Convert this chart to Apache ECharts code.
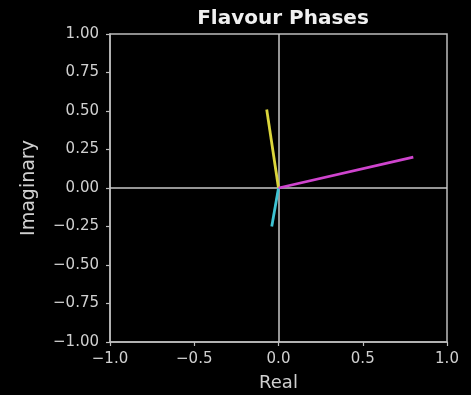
<!DOCTYPE html>
<html>
<head>
<meta charset="utf-8">
<script src="https://cdn.jsdelivr.net/npm/echarts@6/dist/echarts.min.js"></script>
<style>
  html, body { margin: 0; padding: 0; background: #000; }
  #chart { width: 471px; height: 395px; }
</style>
</head>
<body>
<div id="chart"></div>
<script>
// Phase vectors drawn from the origin in the complex plane
const flavourNames = ['yellow', 'cyan', 'magenta'];
const realParts = [-0.07, -0.04, 0.80];
const imagParts = [0.51, -0.25, 0.20];
const lineColors = ['#dcd63c', '#3ec2d2', '#cf44ce'];

const fmt = (v, d) => v.toFixed(d).replace('-', '\u2212');
const txt = '#d0d0d0';
const axisGrey = '#bdbdbd';

const series = flavourNames.map((name, i) => ({
  name: name,
  type: 'line',
  data: [[0, 0], [realParts[i], imagParts[i]]],
  symbol: 'none',
  lineStyle: { color: lineColors[i], width: 2.8 },
  z: 5
}));

// Real and imaginary axes through the origin
series.push({
  type: 'line',
  data: [],
  markLine: {
    silent: true,
    symbol: 'none',
    label: { show: false },
    lineStyle: { color: '#c8c8c8', width: 1.5, type: 'solid' },
    data: [{ xAxis: 0 }, { yAxis: 0 }]
  },
  z: 2
});

const chart = echarts.init(document.getElementById('chart'));
chart.setOption({
  backgroundColor: '#000',
  animation: false,
  title: {
    text: 'Flavour Phases',
    left: 278, top: 4, textAlign: 'center',
    textStyle: { color: '#f0f0f0', fontFamily: 'DejaVu Sans', fontWeight: 'bold', fontSize: 20 }
  },
  grid: {
    left: 110, right: 24, top: 34, bottom: 53,
    containLabel: false, outerBoundsMode: 'none',
    show: true, borderColor: axisGrey, borderWidth: 1.5, backgroundColor: '#000'
  },
  xAxis: {
    type: 'value', min: -1, max: 1, interval: 0.5,
    name: 'Real', nameLocation: 'middle', nameGap: 32,
    nameTextStyle: { color: txt, fontFamily: 'DejaVu Sans', fontSize: 18 },
    axisLine: { show: true, onZero: false, lineStyle: { color: axisGrey, width: 1.5 } },
    axisTick: { show: true, length: 4, lineStyle: { color: axisGrey, width: 1.2 } },
    splitLine: { show: false },
    axisLabel: {
      color: txt, fontFamily: 'DejaVu Sans', fontSize: 15, margin: 10,
      formatter: v => fmt(v, 1)
    }
  },
  yAxis: {
    type: 'value', min: -1, max: 1, interval: 0.25,
    name: 'Imaginary', nameLocation: 'middle', nameGap: 71, nameRotate: 90,
    nameTextStyle: { color: txt, fontFamily: 'DejaVu Sans', fontSize: 19 },
    axisLine: { show: true, onZero: false, lineStyle: { color: axisGrey, width: 1.5 } },
    axisTick: { show: true, length: 4, lineStyle: { color: axisGrey, width: 1.2 } },
    splitLine: { show: false },
    axisLabel: {
      color: txt, fontFamily: 'DejaVu Sans', fontSize: 15, margin: 11,
      formatter: v => fmt(v, 2)
    }
  },
  series: series
});
</script>
</body>
</html>
